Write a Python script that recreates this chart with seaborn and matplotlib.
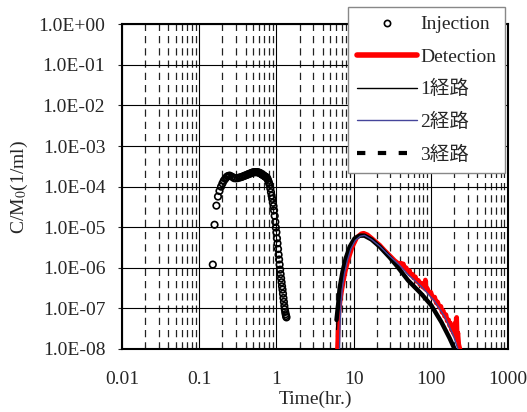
import numpy as np
import pandas as pd
import matplotlib
matplotlib.use("Agg")
import matplotlib.pyplot as plt
from matplotlib.lines import Line2D
from matplotlib.ticker import LogLocator, FixedLocator, FixedFormatter, NullLocator
import seaborn as sns

# Tracer injected at the inlet (hr, 1/ml)
inj_time = [0.150, 0.158, 0.167, 0.175, 0.183, 0.192, 0.200, 0.208, 0.217, 0.225,
            0.233, 0.242, 0.250, 0.267, 0.283, 0.300, 0.317, 0.333, 0.350, 0.367,
            0.383, 0.400, 0.417, 0.433, 0.450, 0.467, 0.483, 0.500, 0.517, 0.533,
            0.550, 0.567, 0.583, 0.600, 0.617, 0.633, 0.650, 0.667, 0.683, 0.700,
            0.717, 0.733, 0.750, 0.767, 0.783, 0.800, 0.817, 0.833, 0.850, 0.867,
            0.883, 0.900, 0.917, 0.933, 0.950, 0.967, 0.983, 1.000, 1.017, 1.033,
            1.050, 1.067, 1.083, 1.100, 1.117, 1.133, 1.150, 1.167, 1.183, 1.200,
            1.217, 1.233, 1.250, 1.267, 1.283, 1.300, 1.317, 1.333, 1.350]
inj_conc = [1.2e-6, 1.15e-5, 3.4e-5, 5.7e-5, 7.8e-5, 1.0e-4, 1.2e-4, 1.4e-4, 1.55e-4, 1.7e-4,
            1.8e-4, 1.85e-4, 1.86e-4, 1.75e-4, 1.62e-4, 1.6e-4, 1.63e-4, 1.68e-4, 1.72e-4, 1.78e-4,
            1.84e-4, 1.9e-4, 1.96e-4, 2.02e-4, 2.08e-4, 2.14e-4, 2.2e-4, 2.25e-4, 2.27e-4, 2.28e-4,
            2.28e-4, 2.27e-4, 2.24e-4, 2.2e-4, 2.15e-4, 2.08e-4, 2.0e-4, 1.94e-4, 1.88e-4, 1.82e-4,
            1.76e-4, 1.72e-4, 1.68e-4, 1.55e-4, 1.4e-4, 1.25e-4, 1.12e-4, 9.0e-5, 7.3e-5, 6.0e-5,
            5.0e-5, 4.0e-5, 3.3e-5, 2.6e-5, 1.9e-5, 1.35e-5, 9.8e-6, 7.5e-6, 5.3e-6, 4.0e-6,
            2.9e-6, 2.1e-6, 1.6e-6, 1.2e-6, 9.0e-7, 7.0e-7, 5.5e-7, 4.4e-7, 3.5e-7, 2.9e-7,
            2.3e-7, 1.8e-7, 1.45e-7, 1.15e-7, 9.5e-8, 8.2e-8, 7.2e-8, 6.5e-8, 6.0e-8]

# Tracer detected at the outlet
det_time = [6.17, 6.3, 6.45, 6.75, 7.25, 7.75, 8.5, 9.55, 11.0, 12.6,
            13.5, 15.1, 17.0, 19.5, 21.8, 25.0, 29.3, 34.0, 39.5, 41.0,
            42.0, 44.0, 46.0, 48.0, 50.7, 53.0, 55.0, 58.0, 60.0, 63.0,
            66.0, 69.0, 72.0, 75.0, 78.0, 81.0, 83.0, 85.0, 87.0, 90.0,
            95.0, 100.0, 106.0, 112.0, 118.0, 122.0, 130.0, 135.0, 140.0, 145.0,
            151.0, 157.0, 163.0, 170.0, 175.0, 180.0, 185.0, 190.0, 195.0, 200.0,
            203.0, 208.0, 213.0, 216.0, 220.0, 224.0, 230.0, 238.0, 245.0]
det_conc = [8.0e-9, 3.2e-8, 8.0e-8, 1.8e-7, 4.0e-7, 7.9e-7, 1.6e-6, 3.2e-6, 5.6e-6, 6.9e-6,
            7.1e-6, 6.5e-6, 5.4e-6, 4.3e-6, 3.6e-6, 2.7e-6, 2.0e-6, 1.5e-6, 1.2e-6, 1.3e-6,
            1.05e-6, 1.25e-6, 9.5e-7, 1.0e-6, 7.8e-7, 8.5e-7, 6.6e-7, 6.9e-7, 5.6e-7, 6.0e-7,
            4.6e-7, 4.9e-7, 3.9e-7, 4.2e-7, 3.4e-7, 3.7e-7, 3.1e-7, 5.0e-7, 2.9e-7, 3.1e-7,
            2.4e-7, 2.5e-7, 1.8e-7, 1.9e-7, 1.35e-7, 1.45e-7, 1.05e-7, 1.12e-7, 8.0e-8, 8.7e-8,
            6.4e-8, 7.0e-8, 4.9e-8, 5.2e-8, 3.8e-8, 4.3e-8, 3.0e-8, 3.5e-8, 2.5e-8, 3.0e-8,
            2.2e-8, 4.5e-8, 1.9e-8, 6.0e-8, 1.7e-8, 2.5e-8, 1.3e-8, 1.0e-8, 7.0e-9]

# Model results for one, two and three flow paths
p1_time = [6.0, 6.15, 6.3, 6.6, 7.2, 7.9, 8.9, 10.3, 12.0, 13.8,
           17.0, 21.8, 29.3, 35.8, 50.7, 75.0, 101.0, 137.0, 175.0, 203.0, 215.0]
p1_conc = [3.0e-8, 7.0e-8, 1.2e-7, 3.2e-7, 8.1e-7, 1.7e-6, 3.3e-6, 5.3e-6, 6.3e-6, 6.3e-6,
           5.0e-6, 3.3e-6, 1.85e-6, 1.17e-6, 5.0e-7, 2.35e-7, 1.23e-7, 4.7e-8, 1.9e-8, 1.0e-8, 7.0e-9]

p2_time = [6.55, 6.65, 6.8, 7.1, 7.6, 8.3, 9.2, 10.5, 12.2, 13.8,
           17.0, 21.8, 29.3, 39.5, 50.7, 75.0, 112.0, 151.0, 195.0, 224.0, 235.0]
p2_conc = [7.0e-9, 3.0e-8, 1.0e-7, 2.8e-7, 7.0e-7, 1.5e-6, 2.9e-6, 4.7e-6, 6.0e-6, 6.3e-6,
           5.0e-6, 3.4e-6, 1.95e-6, 1.15e-6, 6.8e-7, 3.5e-7, 1.5e-7, 6.3e-8, 2.2e-8, 1.0e-8, 7.0e-9]

p3_time = [6.0, 6.15, 6.3, 6.6, 7.2, 7.9, 8.9, 10.3, 12.0, 13.8,
           17.0, 21.8, 29.3, 35.8, 50.7, 75.0, 101.0, 137.0, 175.0, 203.0, 215.0]
p3_conc = [5.2e-8, 8.0e-8, 1.2e-7, 3.2e-7, 8.1e-7, 1.7e-6, 3.3e-6, 5.3e-6, 6.2e-6, 6.2e-6,
           5.0e-6, 3.3e-6, 1.8e-6, 1.15e-6, 4.9e-7, 2.3e-7, 1.2e-7, 4.6e-8, 1.85e-8, 1.0e-8, 7.0e-9]

x_ticks = [0.01, 0.1, 1, 10, 100, 1000]
x_tick_labels = ["0.01", "0.1", "1", "10", "100", "1000"]
y_ticks = [1e-8, 1e-7, 1e-6, 1e-5, 1e-4, 1e-3, 1e-2, 1e-1, 1e0]
y_tick_labels = ["1.0E-08", "1.0E-07", "1.0E-06", "1.0E-05", "1.0E-04",
                 "1.0E-03", "1.0E-02", "1.0E-01", "1.0E+00"]
series_labels = ["Injection", "Detection", "1経路", "2経路", "3経路"]

sns.set_style("white")
plt.rcParams["font.family"] = ["Liberation Serif", "Noto Sans CJK JP"]
plt.rcParams["mathtext.fontset"] = "stix"
FS = 14

fig = plt.figure(figsize=(5.27, 4.12), dpi=100)
ax = fig.add_axes([0.2315, 0.153, 0.7325, 0.788])

blue = "#45459a"

sns.scatterplot(x=inj_time, y=inj_conc, ax=ax, marker="o", s=22,
                facecolors="none", edgecolor="black", linewidth=1.2, zorder=5)
sns.lineplot(x=det_time, y=det_conc, ax=ax, sort=False, estimator=None,
             color="#ff0000", linewidth=3.4, zorder=3)
sns.lineplot(x=p3_time, y=p3_conc, ax=ax, sort=False, estimator=None,
             color="black", linewidth=3.2, zorder=4)
sns.lineplot(x=p1_time, y=p1_conc, ax=ax, sort=False, estimator=None,
             color="black", linewidth=0.9, zorder=4)
sns.lineplot(x=p2_time, y=p2_conc, ax=ax, sort=False, estimator=None,
             color=blue, linewidth=1.0, zorder=4)

ax.set_xscale("log")
ax.set_yscale("log")
ax.set_xlim(0.01, 1000)
ax.set_ylim(1e-8, 1)

ax.xaxis.set_major_locator(FixedLocator(x_ticks))
ax.xaxis.set_major_formatter(FixedFormatter(x_tick_labels))
ax.xaxis.set_minor_locator(LogLocator(base=10, subs=np.arange(2, 10), numticks=20))
ax.yaxis.set_major_locator(FixedLocator(y_ticks))
ax.yaxis.set_major_formatter(FixedFormatter(y_tick_labels))
ax.yaxis.set_minor_locator(NullLocator())

ax.grid(which="major", axis="both", color="black", linewidth=0.8, zorder=0)
ax.grid(which="minor", axis="x", color="#222222", linewidth=0.9,
        linestyle=(0, (5.8, 4.0)), zorder=0)
ax.set_axisbelow(True)

ax.tick_params(axis="x", which="major", length=0, pad=16, labelsize=FS)
ax.tick_params(axis="x", which="minor", direction="in", length=3, width=0.8,
               bottom=True, top=False)
ax.tick_params(axis="y", which="major", direction="out", length=3, width=0.8,
               left=True, pad=9, labelsize=FS)

for sp in ax.spines.values():
    sp.set_visible(True)
    sp.set_color("black")
    sp.set_linewidth(1.5)

ax.set_xlabel("Time(hr.)", fontsize=FS, labelpad=2)
ax.set_ylabel("C/M$_0$(1/ml)", fontsize=FS, labelpad=6)

handles = [
    Line2D([], [], linestyle="none", marker="o", markersize=4.5,
           markerfacecolor="none", markeredgecolor="black", markeredgewidth=1.2),
    Line2D([], [], color="#ff0000", linewidth=4.0),
    Line2D([], [], color="black", linewidth=1.0),
    Line2D([], [], color=blue, linewidth=1.0),
    Line2D([], [], color="black", linewidth=3.0, linestyle=(0, (2.0, 3.0))),
]
leg = fig.legend(handles, series_labels, loc="upper right",
                 bbox_to_anchor=(505 / 527, 1 - 7 / 412),
                 frameon=True, fancybox=False, framealpha=1,
                 edgecolor="#888888", fontsize=FS, handlelength=3.1,
                 handletextpad=0.15, labelspacing=0.75, borderpad=0.45,
                 borderaxespad=0)
leg.get_frame().set_linewidth(1.0)

fig.savefig("out.png", dpi=100)
